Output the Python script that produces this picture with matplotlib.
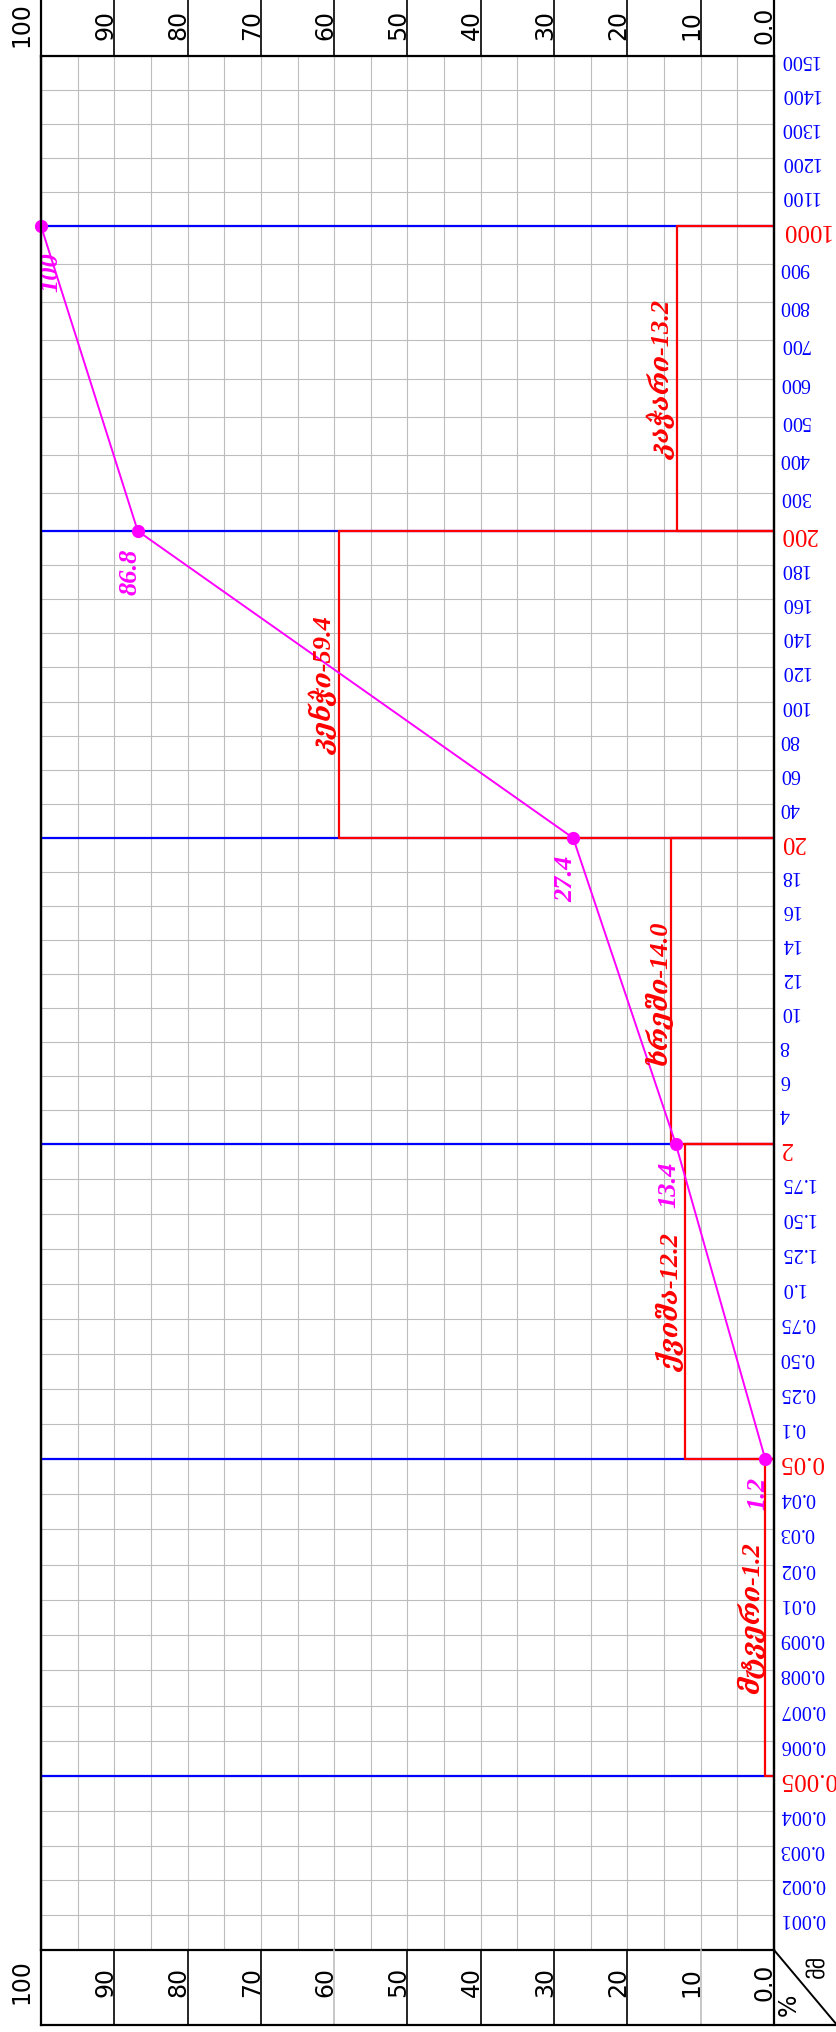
import numpy as np
import matplotlib
matplotlib.use("Agg")
import matplotlib.pyplot as plt
from matplotlib import transforms
from matplotlib.ticker import NullLocator

# grain size curve: size (mm) and percent passing
sizes = [1000, 200, 20, 2, 0.05]
passing = [100, 86.8, 27.4, 13.4, 1.2]

# fraction limits and fraction contents
limits = [1000, 200, 20, 2, 0.05, 0.005]
fractions = ["კაჭარი", "კენჭი", "ხრეში", "ქვიშა", "მტვერი"]
fraction_pct = [13.2, 59.4, 14.0, 12.2, 1.2]

size_ticks = [0.001, 0.002, 0.003, 0.004, 0.005, 0.006, 0.007, 0.008, 0.009,
              0.01, 0.02, 0.03, 0.04, 0.05, 0.1, 0.25, 0.5, 0.75, 1.0, 1.25,
              1.5, 1.75, 2, 4, 6, 8, 10, 12, 14, 16, 18, 20, 40, 60, 80, 100,
              120, 140, 160, 180, 200, 300, 400, 500, 600, 700, 800, 900, 1000,
              1100, 1200, 1300, 1400, 1500]
size_labels = ["0.001", "0.002", "0.003", "0.004", "0.005", "0.006", "0.007",
               "0.008", "0.009", "0.01", "0.02", "0.03", "0.04", "0.05", "0.1",
               "0.25", "0.50", "0.75", "1.0", "1.25", "1.50", "1.75", "2", "4",
               "6", "8", "10", "12", "14", "16", "18", "20", "40", "60", "80",
               "100", "120", "140", "160", "180", "200", "300", "400", "500",
               "600", "700", "800", "900", "1000", "1100", "1200", "1300",
               "1400", "1500"]
pct_ticks = [100, 90, 80, 70, 60, 50, 40, 30, 20, 10, 0]
pct_labels = ["100", "90", "80", "70", "60", "50", "40", "30", "20", "10", "0.0"]

BLUE = "#0000ff"
RED = "#ff0000"
MAG = "#ff00ff"
GRID = "#bdbdbd"
SERIF = ["Liberation Serif", "DejaVu Serif"]

W, H = 837, 2033
x0, x1 = 41, 774
y_top, y_bot = 56.7, 1951

fig = plt.figure(figsize=(W / 100, H / 100), dpi=100)
ax = fig.add_axes([x0 / W, 1 - y_bot / H, (x1 - x0) / W, (y_bot - y_top) / H])

# size axis: each fraction block gets its own height, ticks evenly inside
anchor_vals = [0.005, 0.05, 2, 20, 200, 1000, 1500]
anchor_px = [1777, 1460, 1145, 839, 532, 227, y_top]
a_idx = [-1] + [size_ticks.index(v) for v in anchor_vals]
a_px = [y_bot] + anchor_px
tick_px = np.interp(np.arange(len(size_ticks)), a_idx, a_px)
lv = np.log10(size_ticks)
lv_ext = np.r_[lv[0] - (lv[1] - lv[0]), lv]
u_ext = y_bot - np.r_[y_bot, tick_px]


def fwd(v):
    return np.interp(np.log10(np.clip(v, 1e-9, None)), lv_ext, u_ext)


def inv(u):
    return 10 ** np.interp(u, u_ext, lv_ext)


ax.set_yscale("function", functions=(fwd, inv))
ax.set_ylim(10 ** lv_ext[0], 1500)
ax.set_xlim(100, 0)

ax.set_xticks(np.arange(0, 101, 5))
ax.tick_params(axis="x", length=0, labelbottom=False)
ax.yaxis.tick_right()
ax.set_yticks(size_ticks)
ax.set_yticklabels(size_labels)
ax.yaxis.set_minor_locator(NullLocator())
ax.tick_params(axis="y", length=0, pad=4, labelfontfamily="Liberation Serif")
for v, lab in zip(size_ticks, ax.get_yticklabels()):
    big = v in limits
    lab.set_rotation(180)
    lab.set_fontfamily(SERIF)
    lab.set_color(RED if big else BLUE)
    lab.set_fontsize(18 if big else 14.5)
ax.grid(True, color=GRID, lw=0.8)
ax.set_axisbelow(True)
for s in ax.spines.values():
    s.set_linewidth(1.6)

# fraction limits (blue) and fraction blocks (red)
for v in limits:
    ax.plot([100, 0], [v, v], color=BLUE, lw=1.6, zorder=3)
for i, pct in enumerate(fraction_pct):
    hi, lo = limits[i], limits[i + 1]
    ax.plot([0, pct, pct, 0], [hi, hi, lo, lo], color=RED, lw=1.6, zorder=4)
    mid = inv((fwd(hi) + fwd(lo)) / 2)
    ax.text(pct, mid, f"{fractions[i]}-{pct:.1f}", rotation=90, ha="right",
            va="center", color=RED, fontsize=19, fontweight="bold",
            fontstyle="italic", family=SERIF, zorder=6)

# grain size curve
ax.plot(passing, sizes, color=MAG, lw=1.4, marker="o", ms=8.5, zorder=5,
        clip_on=False)
for p, s in zip(passing, sizes):
    first = p == 100
    ax.annotate(f"{p:g}", (p, s), xytext=(-1, -18) if first else (3, -12),
                textcoords="offset points", rotation=90,
                ha="left" if first else "right", va="top", color=MAG,
                fontsize=19, fontweight="bold", fontstyle="italic",
                family=SERIF, zorder=6)

# percent tables above and below the chart
ov = fig.add_axes([0, 0, 1, 1], facecolor="none")
ov.set_xlim(0, W)
ov.set_ylim(H, 0)
ov.axis("off")
bt = transforms.blended_transform_factory(ax.transData, ov.transData)
y_tb = 2026
for p, lab in zip(pct_ticks, pct_labels):
    if 0 < p < 100:
        ov.plot([p, p], [0, y_top], color="black", lw=1.2, transform=bt)
        ov.plot([p, p], [y_bot, y_tb], transform=bt, lw=1.2,
                color=GRID if p in (60, 10) else "black")
    dx = -8 if p == 100 else 3
    off = transforms.offset_copy(bt, fig=fig, x=dx, y=0, units="dots")
    for yc in (25, 1982):
        ov.text(p, yc, lab, transform=off, rotation=90, ha="right",
                va="center", fontsize=17, color="black", family="DejaVu Sans")
ov.plot([x0, x0], [0, y_tb], color="black", lw=1.6)
ov.plot([x1, x1], [0, y_tb], color="black", lw=1.6)
ov.plot([x0, W], [y_tb, y_tb], color="black", lw=1.6)
ov.plot([x1, W], [y_bot, y_tb], color="black", lw=1.4)
ov.text(789, 2005, "%", rotation=90, ha="center", va="center", fontsize=17,
        family="DejaVu Sans")
ov.text(818, 1966, "მმ", rotation=90, ha="center", va="center", fontsize=16,
        family="DejaVu Sans")

fig.savefig("out.png", dpi=100)
